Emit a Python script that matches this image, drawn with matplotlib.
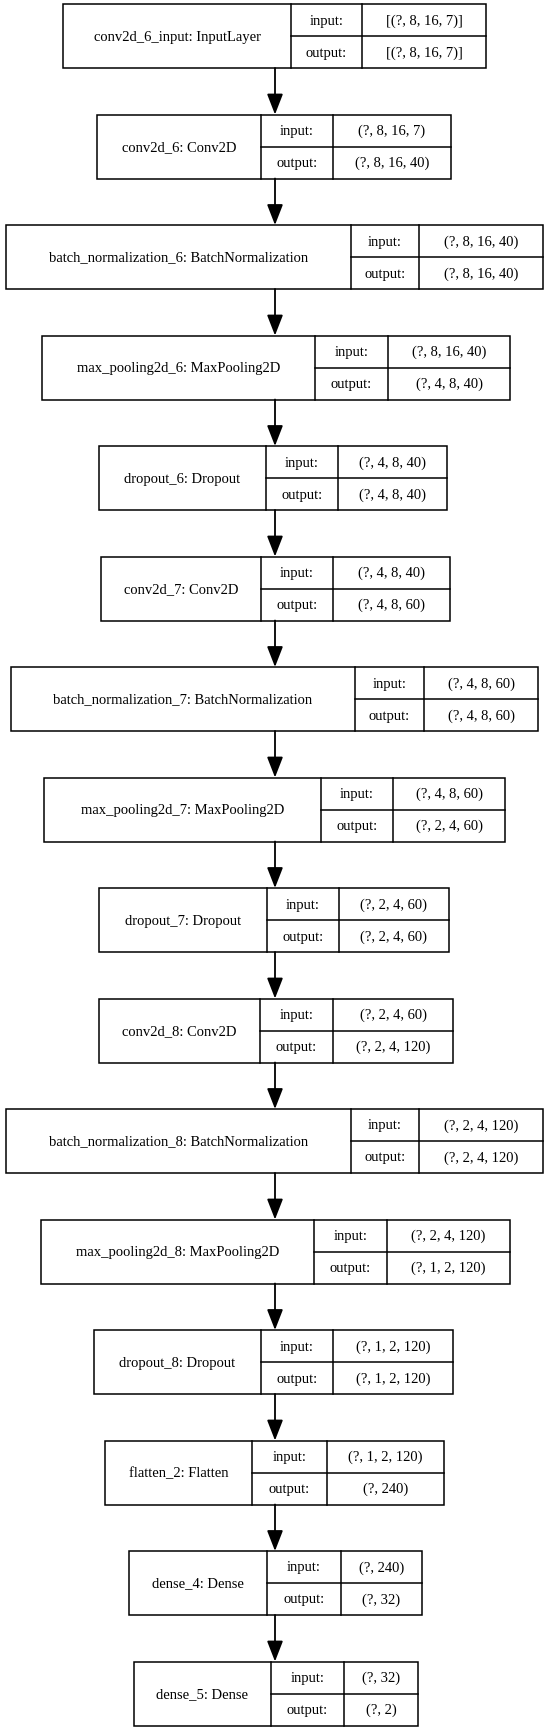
import matplotlib

matplotlib.use("Agg")

import matplotlib.pyplot as plt
from matplotlib.patches import Rectangle, FancyArrowPatch

# layer names and shapes, top to bottom
layer_names = [
    "conv2d_6_input: InputLayer", "conv2d_6: Conv2D",
    "batch_normalization_6: BatchNormalization", "max_pooling2d_6: MaxPooling2D",
    "dropout_6: Dropout", "conv2d_7: Conv2D",
    "batch_normalization_7: BatchNormalization", "max_pooling2d_7: MaxPooling2D",
    "dropout_7: Dropout", "conv2d_8: Conv2D",
    "batch_normalization_8: BatchNormalization", "max_pooling2d_8: MaxPooling2D",
    "dropout_8: Dropout", "flatten_2: Flatten", "dense_4: Dense", "dense_5: Dense",
]
input_shapes = [
    "[(?, 8, 16, 7)]", "(?, 8, 16, 7)", "(?, 8, 16, 40)", "(?, 8, 16, 40)",
    "(?, 4, 8, 40)", "(?, 4, 8, 40)", "(?, 4, 8, 60)", "(?, 4, 8, 60)",
    "(?, 2, 4, 60)", "(?, 2, 4, 60)", "(?, 2, 4, 120)", "(?, 2, 4, 120)",
    "(?, 1, 2, 120)", "(?, 1, 2, 120)", "(?, 240)", "(?, 32)",
]
output_shapes = [
    "[(?, 8, 16, 7)]", "(?, 8, 16, 40)", "(?, 8, 16, 40)", "(?, 4, 8, 40)",
    "(?, 4, 8, 40)", "(?, 4, 8, 60)", "(?, 4, 8, 60)", "(?, 2, 4, 60)",
    "(?, 2, 4, 60)", "(?, 2, 4, 120)", "(?, 2, 4, 120)", "(?, 1, 2, 120)",
    "(?, 1, 2, 120)", "(?, 240)", "(?, 32)", "(?, 2)",
]

# box column edges in pixels: left, name|label divider, label|shape divider, right
box_edges = [
    (63, 291, 362, 486), (97, 261, 333, 451), (6, 351, 419, 543), (42, 315, 388, 510),
    (99, 266, 338, 447), (101, 261, 333, 450), (11, 355, 424, 538), (44, 321, 393, 505),
    (99, 267, 339, 449), (99, 260, 333, 453), (6, 351, 419, 543), (41, 314, 387, 510),
    (94, 261, 333, 453), (105, 252, 327, 444), (129, 267, 341, 422), (134, 271, 344, 418),
]

W, H = 548, 1733
TOP, PITCH, BOX_H = 5, 110.5, 64
CX = 275
FONT = dict(family=["Liberation Serif", "DejaVu Serif"], fontsize=10.5, color="black")

fig = plt.figure(figsize=(W / 100, H / 100), dpi=100)
ax = fig.add_axes([0, 0, 1, 1])
ax.set_xlim(0, W)
ax.set_ylim(H, 0)
ax.axis("off")

for i, name in enumerate(layer_names):
    left, d1, d2, right = box_edges[i]
    top = TOP + i * PITCH
    mid = top + BOX_H / 2
    ax.add_patch(Rectangle((left, top), right - left, BOX_H, fill=False, lw=1.1, ec="black"))
    ax.plot([d1, d1], [top, top + BOX_H], color="black", lw=1.1)
    ax.plot([d2, d2], [top, top + BOX_H], color="black", lw=1.1)
    ax.plot([d1, right], [mid, mid], color="black", lw=1.1)
    ax.text((left + d1) / 2, mid, name, ha="center", va="center", **FONT)
    ax.text((d1 + d2) / 2, top + BOX_H / 4, "input:", ha="center", va="center", **FONT)
    ax.text((d1 + d2) / 2, top + 3 * BOX_H / 4, "output:", ha="center", va="center", **FONT)
    ax.text((d2 + right) / 2, top + BOX_H / 4, input_shapes[i], ha="center", va="center", **FONT)
    ax.text((d2 + right) / 2, top + 3 * BOX_H / 4, output_shapes[i], ha="center", va="center", **FONT)
    if i < len(layer_names) - 1:
        arrow = FancyArrowPatch(
            (CX, top + BOX_H), (CX, top + PITCH),
            arrowstyle="-|>,head_length=0.9,head_width=0.35",
            mutation_scale=14, color="black", lw=1.3, shrinkA=0, shrinkB=0,
        )
        ax.add_patch(arrow)

fig.savefig("out.png", dpi=100)
plt.close(fig)
